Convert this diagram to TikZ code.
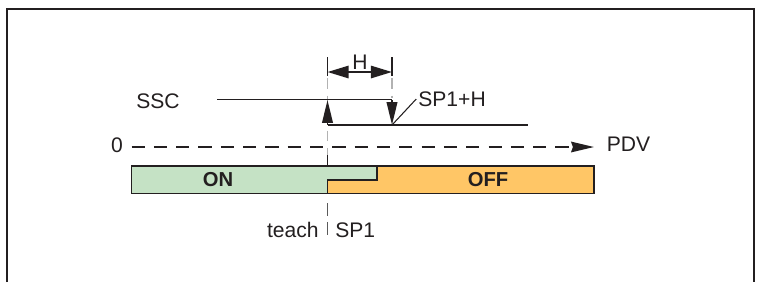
\documentclass[tikz,border=0pt]{standalone}
\usepackage{fontspec}
\setmainfont{Liberation Sans}
\usetikzlibrary{arrows.meta}
\definecolor{onfill}{RGB}{197,226,197}
\definecolor{offfill}{RGB}{255,198,102}
\definecolor{ink}{RGB}{35,31,32}
\definecolor{guide}{RGB}{178,178,178}
\definecolor{tickgray}{RGB}{90,90,90}
\tikzset{
  lbl/.style={font=\fontsize{12}{14}\selectfont, text=ink, inner sep=0pt},
  state/.style={font=\fontsize{11.5}{14}\selectfont\bfseries, text=ink, inner sep=0pt},
  sw/.style={draw=ink, line width=1.1pt},
  tip/.style={-{Stealth[length=13pt,width=6pt,inset=0pt]}},
  guideline/.style={draw=guide, line width=0.8pt, dash pattern=on 6pt off 4pt},
}
\begin{document}
\begin{tikzpicture}[x=0.02cm,y=-0.02cm]
\useasboundingbox (0,0) rectangle (757,282);
\draw[ink, line width=1.1pt] (6.7,282) -- (6.7,9.3) -- (754.3,9.3) -- (754.3,282);

\coordinate (sp) at (327.5,0);
\coordinate (sph) at (392,0);
\coordinate (barnw) at (131.5,166);
\coordinate (barse) at (594,193.5);
\coordinate (stepx) at (377,180);

\node[lbl] (ssc) at (158,101) {SSC};
\node[lbl] (zero) at (117,145) {0};
\node[lbl] (pdv) at (628.5,144) {PDV};
\node[lbl] (hlbl) at (360,62) {H};
\node[lbl, anchor=west] (sphlbl) at (418,99) {SP1+H};
\node[lbl, anchor=east] (teach) at (319,230) {teach};
\node[lbl, anchor=west] (sp1lbl) at (335,230) {SP1};

\fill[onfill] (barnw) -- (stepx |- barnw) -- (stepx) -- (sp |- stepx) -- (sp |- barse) -- (barnw |- barse) -- cycle;
\fill[offfill] (stepx |- barnw) -- (barse |- barnw) -- (barse) -- (sp |- barse) -- (sp |- stepx) -- (stepx) -- cycle;
\draw[sw] (barnw) rectangle (barse);
\draw[sw] (sp |- barse) -- (sp |- stepx) -- (stepx) -- (stepx |- barnw);
\node[state] (on) at (218,180) {ON};
\node[state] (off) at (488,180) {OFF};

\draw[ink, line width=1.1pt, dash pattern=on 7.5pt off 5.2pt, -{Stealth[length=13pt,width=6pt,inset=1pt]}] (131.5,147) -- (594,147);

\draw[guideline] ([yshift=-78*0.02cm]sp) -- ([yshift=-155*0.02cm]sp);
\draw[guideline] ([yshift=-78*0.02cm]sph) -- ([yshift=-98*0.02cm]sph);
\draw[ink, line width=0.8pt] ([yshift=-155*0.02cm]sp) -- (sp |- barnw);
\draw[draw=tickgray, line width=0.8pt, dash pattern=on 7.4pt off 3.4pt] ([yshift=-203*0.02cm]sp) -- ([yshift=-238*0.02cm]sp);

\draw[ink, line width=0.8pt] ([yshift=-57*0.02cm]sp) -- ([yshift=-76*0.02cm]sp);
\draw[ink, line width=0.8pt] ([yshift=-57*0.02cm]sph) -- ([yshift=-76*0.02cm]sph);
\draw[ink, line width=1.1pt, {Stealth[length=12pt,width=7pt,inset=0pt]}-{Stealth[length=12pt,width=7pt,inset=0pt]}] ([yshift=-72*0.02cm]sp) -- ([yshift=-72*0.02cm]sph);

\draw[sw] (217,99.5) -- ([yshift=-99.5*0.02cm]sph);
\draw[sw] ([yshift=-125*0.02cm]sp) -- (528,125);
\draw[sw, tip] ([yshift=-125*0.02cm]sp) -- ([yshift=-100*0.02cm]sp);
\draw[sw, tip] ([yshift=-100*0.02cm]sph) -- ([yshift=-125*0.02cm]sph);
\draw[ink, line width=0.6pt] ([yshift=-125*0.02cm]sph) -- ([xshift=-1pt]sphlbl.west);
\end{tikzpicture}
\end{document}
